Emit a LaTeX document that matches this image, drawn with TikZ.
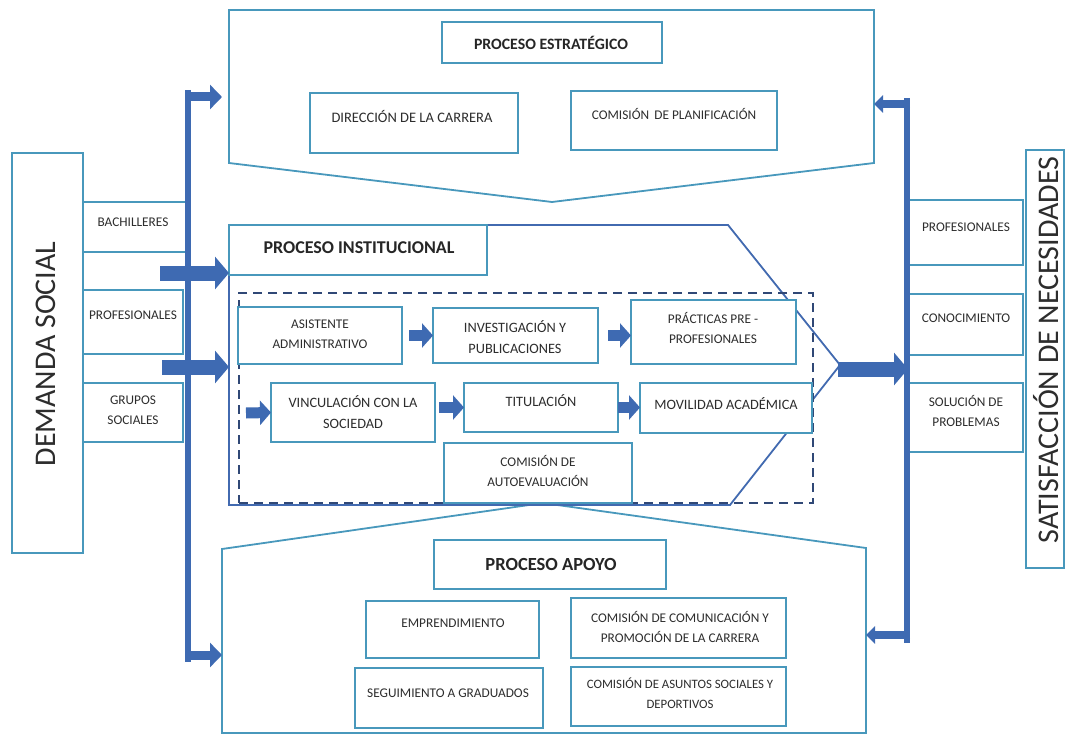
\documentclass[tikz,border=0pt]{standalone}
\usepackage{fontspec}
\setmainfont{Carlito}
\usetikzlibrary{arrows.meta}
\definecolor{teal}{RGB}{72,152,188}
\definecolor{instblue}{RGB}{66,106,176}
\definecolor{navy}{RGB}{48,72,118}
\definecolor{arrowc}{RGB}{62,106,178}
\definecolor{txtc}{RGB}{45,45,45}
\begin{document}
\begin{tikzpicture}[x=1pt,y=-1pt,
  box/.style={draw=teal, line width=1.8pt, fill=white, rectangle, inner sep=0pt, outer sep=0pt, anchor=north west},
  txt/.style={font=\fontsize{13.3}{20.5}\selectfont, text=txtc, align=center, inner sep=0pt},
  txtl/.style={txt, font=\fontsize{14.3}{21}\selectfont},
  ttl/.style={font=\bfseries\fontsize{15.8}{18}\selectfont, text=black!85, inner sep=0pt},
  bigtxt/.style={font=\fontsize{30}{32}\selectfont, text=txtc, inner sep=0pt},
  pent/.style={draw=teal, line width=1.8pt, fill=white, line join=miter},
  vline/.style={draw=arrowc, line width=6pt},
  bigarr/.style={draw=arrowc, line width=15pt, -{Triangle[length=14pt,width=32pt]}},
  midarr/.style={draw=arrowc, line width=9pt, -{Triangle[length=12pt,width=24pt]}},
  thinarr/.style={draw=arrowc, line width=8pt, -{Triangle[length=9pt,width=17pt]}},
  smarr/.style={draw=arrowc, line width=11pt, -{Triangle[length=11pt,width=24pt]}}
]
\useasboundingbox (0,0) rectangle (1067,735);

% ---------- left: demanda social ----------
\node[box, minimum width=71pt, minimum height=400pt] (dem) at (12,153) {};
\node[bigtxt, rotate=90] (demT) at (46,354) {DEMANDA SOCIAL};
\node[box, minimum width=105pt, minimum height=50pt] (bach) at (83,202) {};
\node[txt] (bachT) at (133,222) {BACHILLERES};
\node[box, minimum width=100pt, minimum height=64pt] (profL) at (83,290) {};
\node[txt] (profLT) at (133,315) {PROFESIONALES};
\node[box, minimum width=100pt, minimum height=59pt] (grup) at (83,383) {};
\node[txt] (grupT) at (133,410) {GRUPOS\\SOCIALES};

% ---------- top pentagon: estrategico ----------
\coordinate (e1) at (229,10);
\coordinate (e2) at (874,10);
\coordinate (e3) at (874,163);
\coordinate (e4) at (552,202);
\coordinate (e5) at (229,163);
\draw[pent] (e1) -- (e2) -- (e3) -- (e4) -- (e5) -- cycle;
\node[box, minimum width=220pt, minimum height=41pt] (estT) at (442,22) {};
\node[ttl] (estTT) at (551,43) {PROCESO ESTRATÉGICO};
\node[box, minimum width=208pt, minimum height=60pt] (dir) at (310,93) {};
\node[txt, font=\fontsize{14.5}{20}\selectfont] (dirT) at (412,116) {DIRECCIÓN DE LA CARRERA};
\node[box, minimum width=206pt, minimum height=59pt] (plan) at (571,91) {};
\node[txt] (planT) at (674,114) {COMISIÓN\, DE PLANIFICACIÓN};

% ---------- bottom pentagon: apoyo ----------
\coordinate (a1) at (222,549);
\coordinate (a2) at (543,503);
\coordinate (a3) at (866,548);
\coordinate (a4) at (866,733);
\coordinate (a5) at (222,733);
\draw[pent] (a1) -- (a2) -- (a3) -- (a4) -- (a5) -- cycle;
\node[box, minimum width=232pt, minimum height=49pt] (apoT) at (434,540) {};
\node[ttl, font=\bfseries\fontsize{18.5}{20}\selectfont] (apoTT) at (551,564) {PROCESO APOYO};
\node[box, minimum width=173pt, minimum height=57pt] (empr) at (366,601) {};
\node[txt] (emprT) at (453,623) {EMPRENDIMIENTO};
\node[box, minimum width=188pt, minimum height=60pt] (segu) at (355,668) {};
\node[txt] (seguT) at (448,693) {SEGUIMIENTO A GRADUADOS};
\node[box, minimum width=215pt, minimum height=60pt] (comu) at (571,598) {};
\node[txt] (comuT) at (680,627) {COMISIÓN DE COMUNICACIÓN Y\\PROMOCIÓN DE LA CARRERA};
\node[box, minimum width=215pt, minimum height=59pt] (asun) at (571,667) {};
\node[txt, font=\fontsize{12.8}{20.5}\selectfont] (asunT) at (680,693) {COMISIÓN DE ASUNTOS SOCIALES Y\\DEPORTIVOS};

% ---------- institutional ----------
\coordinate (i1) at (229,225);
\coordinate (i2) at (728,225);
\coordinate (i3) at (840,365);
\coordinate (i4) at (730,505);
\coordinate (i5) at (229,505);
\draw[draw=instblue, line width=1.8pt, fill=white] (i1) -- (i2) -- (i3) -- (i4) -- (i5) -- cycle;
\node[box, minimum width=258pt, minimum height=50pt] (insT) at (229,225) {};
\node[ttl, font=\bfseries\fontsize{18}{20}\selectfont] (insTT) at (359,248) {PROCESO INSTITUCIONAL};
\node[draw=navy, line width=2.2pt, dash pattern=on 9pt off 6pt, rectangle, inner sep=0pt, anchor=north west,
      minimum width=574pt, minimum height=210pt] (dash) at (238,292) {};

\node[box, minimum width=164pt, minimum height=57pt] (asis) at (238,307) {};
\node[txt] (asisT) at (320,334) {ASISTENTE\\ADMINISTRATIVO};
\node[box, minimum width=165pt, minimum height=55pt] (inv) at (433,308) {};
\node[txtl] (invT) at (515,337) {INVESTIGACIÓN Y\\PUBLICACIONES};
\node[box, minimum width=165pt, minimum height=64pt] (prac) at (631,300) {};
\node[txt] (pracT) at (713,328) {PRÁCTICAS PRE -\\PROFESIONALES};
\node[box, minimum width=164pt, minimum height=59pt] (vinc) at (271,383) {};
\node[txtl] (vincT) at (353,412) {VINCULACIÓN CON LA\\SOCIEDAD};
\node[box, minimum width=154pt, minimum height=49pt] (titu) at (464,383) {};
\node[txtl] (tituT) at (541,401) {TITULACIÓN};
\node[box, minimum width=172pt, minimum height=50pt] (movi) at (640,383) {};
\node[txtl] (moviT) at (726,404) {MOVILIDAD ACADÉMICA};
\node[box, minimum width=188pt, minimum height=60pt] (auto) at (444,443) {};
\node[txt] (autoT) at (538,471) {COMISIÓN DE\\AUTOEVALUACIÓN};

% small arrows inside
\coordinate (vin0) at (246,413);
\draw[smarr, shorten <=7pt] (asis.east) -- (inv.west);
\draw[smarr, shorten <=10pt] (inv.east) -- (inv.east -| prac.west);
\draw[smarr] (vin0) -- (vinc.west);
\draw[smarr, shorten <=4pt] (vinc.east |- titu.west) -- (titu.west);
\draw[smarr] (titu.east) -- (titu.east -| movi.west);

% ---------- right: satisfaccion ----------
\node[box, minimum width=38pt, minimum height=418pt] (sat) at (1026,150) {};
\node[bigtxt, rotate=90] (satT) at (1046,350) {SATISFACCIÓN DE NECESIDADES};
\node[box, minimum width=114pt, minimum height=65pt] (profR) at (909,200) {};
\node[txt] (profRT) at (966,227) {PROFESIONALES};
\node[box, minimum width=114pt, minimum height=61pt] (cono) at (909,294) {};
\node[txt] (conoT) at (966,318) {CONOCIMIENTO};
\node[box, minimum width=114pt, minimum height=69pt] (solu) at (909,383) {};
\node[txt] (soluT) at (966,411) {SOLUCIÓN DE\\PROBLEMAS};

% ---------- connectors ----------
% left distribution line
\coordinate (lvTop) at (188,90);
\coordinate (lvBot) at (188,662);
\draw[vline] (lvTop) -- (lvBot);
\coordinate (lvA) at (185,97);
\coordinate (lvB) at (185,655);
\coordinate (estIn) at (222,97);
\coordinate (apoIn) at (222,655);
\draw[midarr] (lvA) -- (estIn);
\draw[midarr] (lvB) -- (apoIn);
% arrows into institutional
\coordinate (in1) at (160,273);
\coordinate (in2) at (162,367);
\coordinate (in1t) at (229,273);
\coordinate (in2t) at (229,367);
\draw[bigarr] (in1) -- (in1t);
\draw[bigarr] (in2) -- (in2t);
% institutional out
\coordinate (outS) at (838,369);
\coordinate (outT) at (908,369);
\draw[bigarr] (outS) -- (outT);
% right distribution line
\coordinate (rvTop) at (907,98);
\coordinate (rvBot) at (907,643);
\draw[vline] (rvTop) -- (rvBot);
\coordinate (rvA) at (910,104);
\coordinate (rvB) at (910,635);
\coordinate (estOut) at (874,104);
\coordinate (apoOut) at (866,635);
\draw[thinarr] (rvA) -- (estOut);
\draw[thinarr] (rvB) -- (apoOut);
\end{tikzpicture}
\end{document}
